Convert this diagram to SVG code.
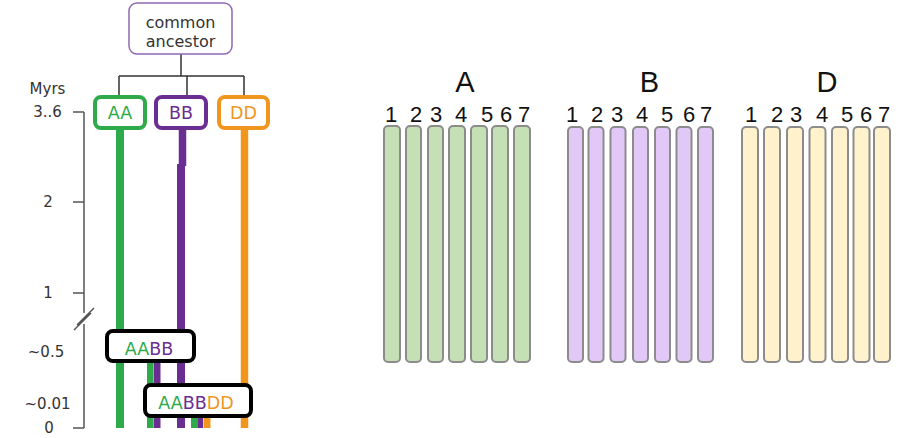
<svg xmlns="http://www.w3.org/2000/svg" width="908" height="438" viewBox="0 0 908 438">
<style>
.lbl{font-family:"DejaVu Sans",Verdana,sans-serif;fill:#333;}
.ax{font-family:"DejaVu Sans",Verdana,sans-serif;font-size:15px;fill:#333;text-anchor:middle;}
.g{fill:#2eaa4a;} .p{fill:#6a2d91;} .o{fill:#f0961e;}
.gen{font-family:"DejaVu Sans",Verdana,sans-serif;font-size:17.5px;text-anchor:middle;}
.conn{stroke:#333;stroke-width:1.5;fill:none;}
.axis{stroke:#555;stroke-width:1.5;fill:none;}
.lg{stroke:#2eaa4a;} .lp{stroke:#6a2d91;} .lo{stroke:#f0961e;}
.chrA{fill:#c5e0b4;stroke:#8c8c8c;stroke-width:2;}
.chrB{fill:#e2c8f7;stroke:#8c8c8c;stroke-width:2;}
.chrD{fill:#fff2cc;stroke:#8c8c8c;stroke-width:2;}
.big{font-family:"Liberation Sans",Arial,sans-serif;font-size:29px;fill:#111;text-anchor:middle;}
.num{font-family:"Liberation Sans",Arial,sans-serif;font-size:22px;fill:#111;text-anchor:middle;}
</style>

<g id="connectors">
  <path class="conn" d="M181 54V76M119 76H244M119 76V95M187 76V95M244 76V95"/>
  <g fill="none">
    <path class="lg" stroke-width="8" d="M120 129V428"/>
    <path class="lp" stroke-width="7.5" d="M182.5 129V166"/>
    <path class="lp" stroke-width="8" d="M181 164V428"/>
    <path class="lo" stroke-width="7.5" d="M244.5 129V428"/>
    <path class="lg" stroke-width="6" d="M150 360V428"/>
    <path class="lp" stroke-width="7" d="M157 360V428"/>
    <path class="lg" stroke-width="7" d="M194.5 415V428"/>
    <path class="lp" stroke-width="5" d="M200.5 415V428"/>
    <path class="lo" stroke-width="7" d="M207 415V428"/>
  </g>
</g>

<g id="axis">
  <path class="axis" d="M84 112V313M84 324V428M73 112H84M73 202H84M73 293H84M73 428H84"/>
  <path class="axis" d="M74 330L91 313M77 325L94 308"/>
  <text class="ax" x="47.5" y="94">Myrs</text>
  <text class="ax" x="47.5" y="117">3..6</text>
  <text class="ax" x="48" y="207">2</text>
  <text class="ax" x="48" y="298">1</text>
  <text class="ax" x="46" y="357">~0.5</text>
  <text class="ax" x="47.5" y="409">~0.01</text>
  <text class="ax" x="49" y="433">0</text>
</g>

<g id="ancestor">
  <rect x="129" y="3" width="103" height="51" rx="8" fill="#fff" stroke="#9068b3" stroke-width="1.5"/>
  <text class="lbl" font-size="16" x="180.5" y="28" text-anchor="middle">common</text>
  <text class="lbl" font-size="16" x="180.5" y="47" text-anchor="middle">ancestor</text>
</g>

<g id="AA">
  <rect x="95" y="97" width="50" height="31" rx="6" fill="#fff" stroke="#2eaa4a" stroke-width="4"/>
  <text class="gen g" font-size="17" x="120" y="119">AA</text>
</g>
<g id="BB">
  <rect x="156" y="97" width="50" height="31" rx="6" fill="#fff" stroke="#6a2d91" stroke-width="4"/>
  <text class="gen p" font-size="17" x="181" y="119">BB</text>
</g>
<g id="DD">
  <rect x="219" y="97" width="49" height="31" rx="6" fill="#fff" stroke="#f0961e" stroke-width="4"/>
  <text class="gen o" font-size="17" x="243.5" y="119">DD</text>
</g>

<g id="AABB">
  <rect x="107" y="331" width="87" height="30" rx="6" fill="#fff" stroke="#000" stroke-width="4"/>
  <text class="gen" x="149" y="355"><tspan class="g">AA</tspan><tspan class="p">BB</tspan></text>
</g>
<g id="AABBDD">
  <rect x="145" y="385" width="106" height="31" rx="6" fill="#fff" stroke="#000" stroke-width="4"/>
  <text class="gen" x="196" y="409"><tspan class="g">AA</tspan><tspan class="p">BB</tspan><tspan class="o">DD</tspan></text>
</g>

<g id="genomeA">
  <text class="big" x="465" y="92">A</text>
  <text class="num" y="122"><tspan x="391">1</tspan><tspan x="416">2</tspan><tspan x="436">3</tspan><tspan x="461">4</tspan><tspan x="487">5</tspan><tspan x="506">6</tspan><tspan x="524">7</tspan></text>
  <rect class="chrA" x="384" y="126" width="16" height="236" rx="4"/>
  <rect class="chrA" x="406" y="126" width="15" height="236" rx="4"/>
  <rect class="chrA" x="428" y="126" width="15" height="236" rx="4"/>
  <rect class="chrA" x="449" y="126" width="16" height="236" rx="4"/>
  <rect class="chrA" x="471" y="126" width="16" height="236" rx="4"/>
  <rect class="chrA" x="492" y="126" width="16" height="236" rx="4"/>
  <rect class="chrA" x="514" y="126" width="16" height="236" rx="4"/>
</g>

<g id="genomeB">
  <text class="big" x="649.5" y="92">B</text>
  <text class="num" y="122"><tspan x="572">1</tspan><tspan x="597">2</tspan><tspan x="617">3</tspan><tspan x="642">4</tspan><tspan x="667">5</tspan><tspan x="689">6</tspan><tspan x="706">7</tspan></text>
  <rect class="chrB" x="568" y="127" width="15" height="235" rx="4"/>
  <rect class="chrB" x="588.5" y="127" width="15" height="235" rx="4"/>
  <rect class="chrB" x="610.5" y="127" width="15" height="235" rx="4"/>
  <rect class="chrB" x="633" y="127" width="15" height="235" rx="4"/>
  <rect class="chrB" x="655" y="127" width="15" height="235" rx="4"/>
  <rect class="chrB" x="676.5" y="127" width="15" height="235" rx="4"/>
  <rect class="chrB" x="698" y="127" width="15" height="235" rx="4"/>
</g>

<g id="genomeD">
  <text class="big" x="827" y="92">D</text>
  <text class="num" y="122"><tspan x="751">1</tspan><tspan x="777">2</tspan><tspan x="796">3</tspan><tspan x="822">4</tspan><tspan x="847">5</tspan><tspan x="866">6</tspan><tspan x="884">7</tspan></text>
  <rect class="chrD" x="742" y="127" width="16" height="235" rx="4"/>
  <rect class="chrD" x="764" y="127" width="16" height="235" rx="4"/>
  <rect class="chrD" x="787" y="127" width="16" height="235" rx="4"/>
  <rect class="chrD" x="809.5" y="127" width="16" height="235" rx="4"/>
  <rect class="chrD" x="832" y="127" width="16" height="235" rx="4"/>
  <rect class="chrD" x="853.5" y="127" width="16" height="235" rx="4"/>
  <rect class="chrD" x="874" y="127" width="16" height="235" rx="4"/>
</g>
</svg>
